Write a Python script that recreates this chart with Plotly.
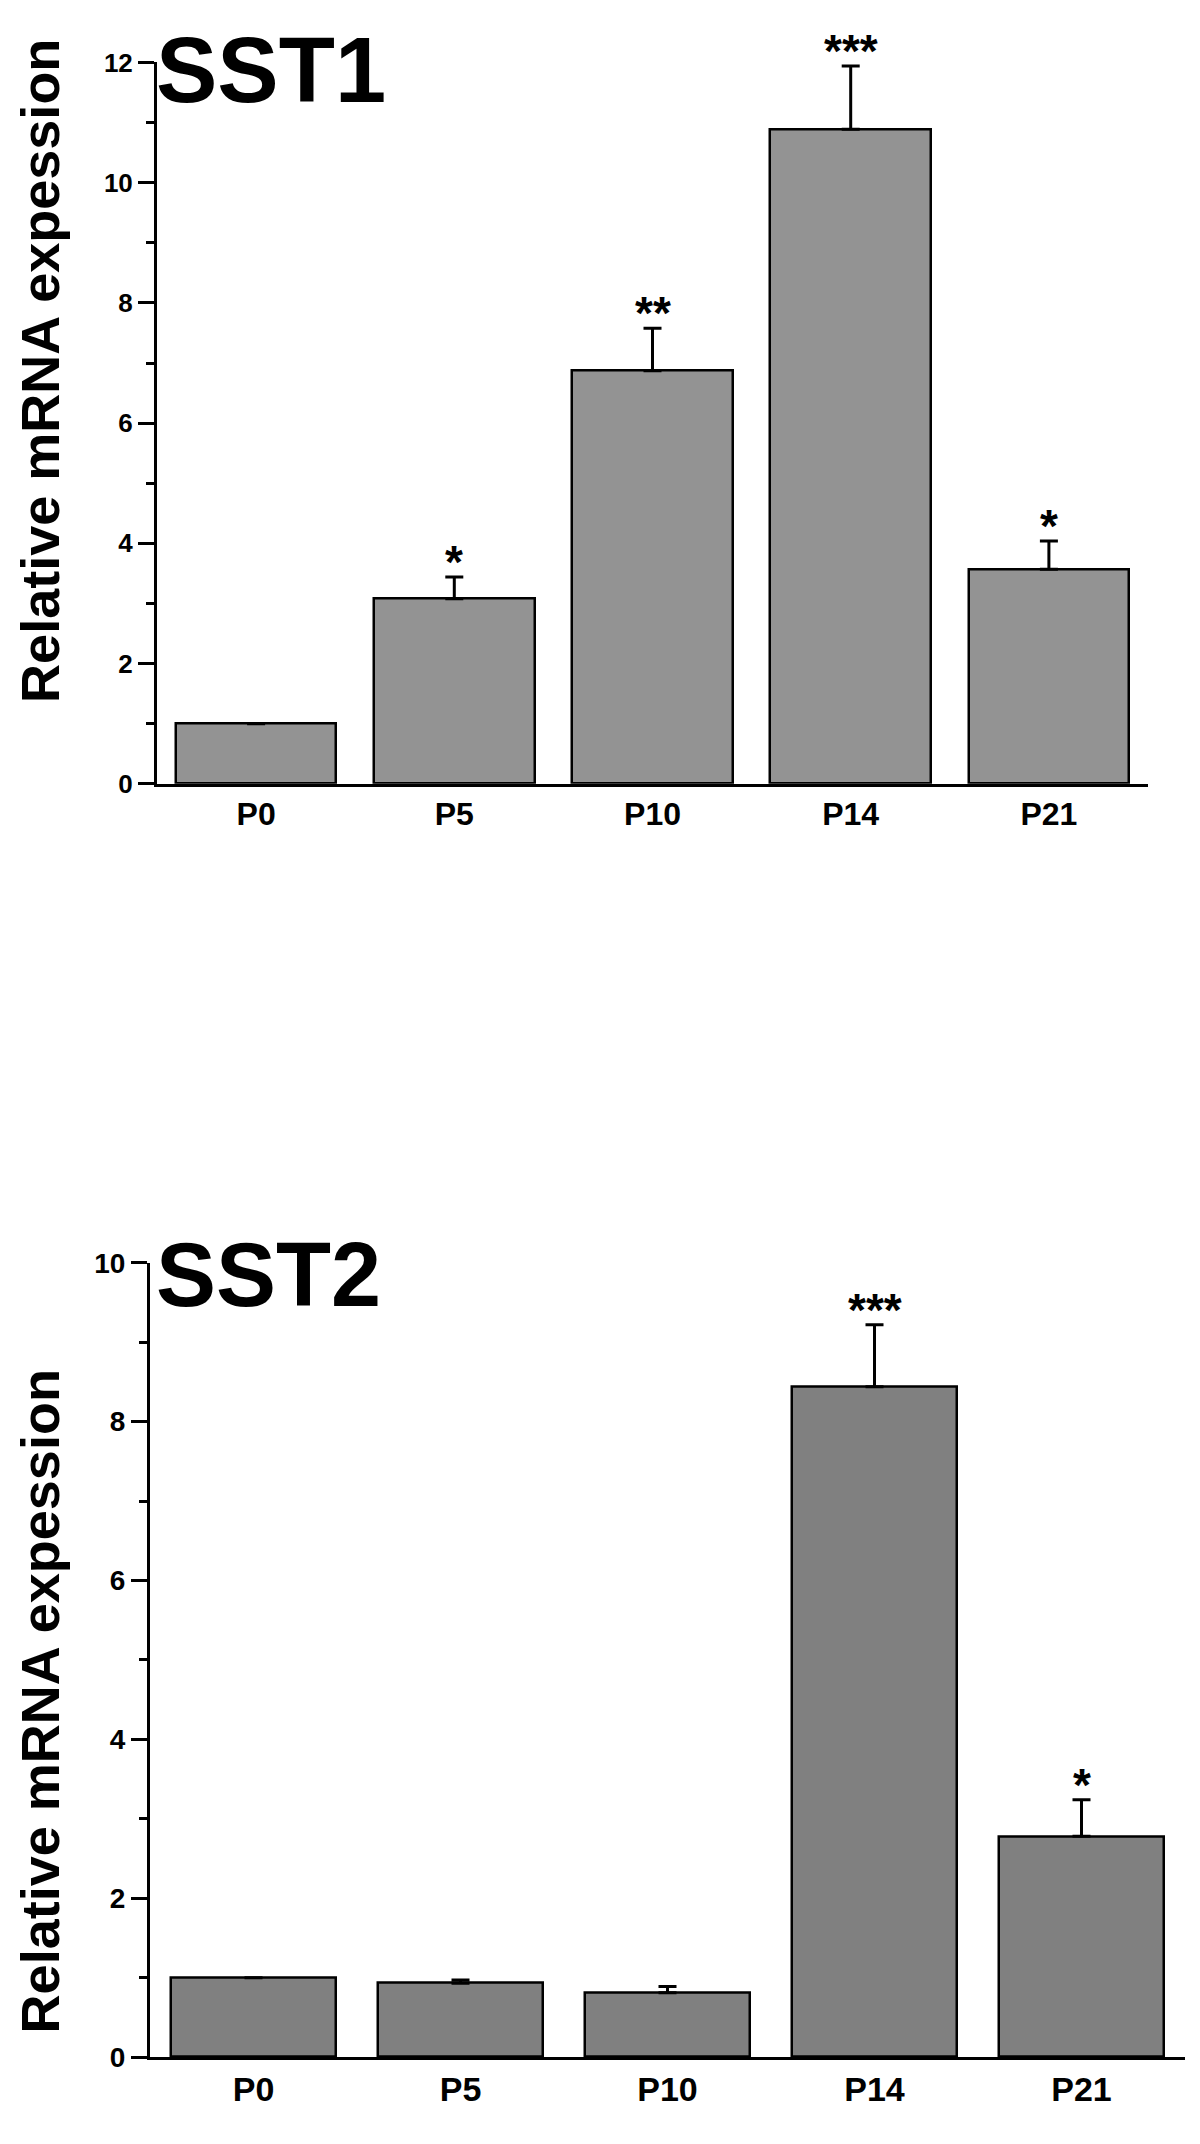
import plotly.graph_objects as go

# data
stages = ["P0", "P5", "P10", "P14", "P21"]
sst1_mean = [1.0, 3.08, 6.87, 10.89, 3.57]
sst1_err = [0, 0.36, 0.71, 1.05, 0.47]
sst1_stars = ["", "*", "**", "***", "*"]
sst2_mean = [1.0, 0.93, 0.81, 8.44, 2.78]
sst2_err = [0, 0.04, 0.08, 0.78, 0.46]
sst2_stars = ["", "", "", "***", "*"]

W, H = 1200, 2144
FONT = "Liberation Sans, Arial, sans-serif"


def px_x(p):
    return p / W


def px_y(p):
    return 1 - p / H


fig = go.Figure()

fig.add_trace(go.Bar(x=stages, y=sst1_mean, width=0.81, xaxis="x", yaxis="y",
                     marker=dict(color="#939393", line=dict(color="black", width=2.5)),
                     error_y=dict(type="data", array=sst1_err, arrayminus=[0] * 5, symmetric=False,
                                  color="black", thickness=3, width=9),
                     showlegend=False))
fig.add_trace(go.Bar(x=stages, y=sst2_mean, width=0.80, xaxis="x2", yaxis="y2",
                     marker=dict(color="#808080", line=dict(color="black", width=2.5)),
                     error_y=dict(type="data", array=sst2_err, arrayminus=[0] * 5, symmetric=False,
                                  color="black", thickness=3, width=9),
                     showlegend=False))

annotations = []
for xa, ya, means, errs, stars in [("x", "y", sst1_mean, sst1_err, sst1_stars),
                                   ("x2", "y2", sst2_mean, sst2_err, sst2_stars)]:
    for s, m, e, t in zip(stages, means, errs, stars):
        if t:
            annotations.append(dict(x=s, y=m + e, xref=xa, yref=ya, text=t, showarrow=False,
                                    yanchor="bottom", yshift=-13,
                                    font=dict(family=FONT, size=46, color="black", weight="bold")))

# panel labels
annotations.append(dict(x=px_x(146), y=px_y(48), xref="paper", yref="paper", text="SST1",
                        showarrow=False, xanchor="left", yanchor="middle",
                        font=dict(family=FONT, size=92, color="black", weight="bold")))
annotations.append(dict(x=px_x(146), y=px_y(1270), xref="paper", yref="paper", text="SST2",
                        showarrow=False, xanchor="left", yanchor="middle",
                        font=dict(family=FONT, size=90, color="black", weight="bold")))

# y axis titles
annotations.append(dict(x=px_x(32), y=px_y(353), xref="paper", yref="paper",
                        text="Relative mRNA expession", textangle=-90, showarrow=False,
                        xanchor="center", yanchor="middle",
                        font=dict(family=FONT, size=54, color="black", weight="bold")))
annotations.append(dict(x=px_x(32), y=px_y(1703), xref="paper", yref="paper",
                        text="Relative mRNA expession", textangle=-90, showarrow=False,
                        xanchor="center", yanchor="middle",
                        font=dict(family=FONT, size=54, color="black", weight="bold")))

xcommon = dict(showline=True, linecolor="black", linewidth=3, ticks="", showgrid=False,
               zeroline=False, range=[-0.5, 4.5], fixedrange=True)
ycommon = dict(showline=True, linecolor="black", linewidth=3, ticks="outside", ticklen=16,
               tickwidth=3, tickcolor="black", dtick=2, showgrid=False, zeroline=False,
               minor=dict(ticks="outside", ticklen=8, tickwidth=3, tickcolor="black", dtick=1))

fig.update_layout(
    width=W, height=H,
    margin=dict(l=0, r=0, t=0, b=0),
    paper_bgcolor="white", plot_bgcolor="white",
    bargap=0,
    xaxis=dict(xcommon, domain=[px_x(149), px_x(1140)], anchor="y",
               tickfont=dict(family=FONT, size=32, color="black", weight="bold")),
    yaxis=dict(ycommon, domain=[px_y(772), px_y(40)], anchor="x", range=[0, 12], tick0=0,
               tickfont=dict(family=FONT, size=26, color="black", weight="bold")),
    xaxis2=dict(xcommon, domain=[px_x(142), px_x(1177)], anchor="y2",
                tickfont=dict(family=FONT, size=34, color="black", weight="bold")),
    yaxis2=dict(ycommon, domain=[px_y(2064), px_y(1258)], anchor="x2", range=[0, 10], tick0=0,
                tickfont=dict(family=FONT, size=28, color="black", weight="bold")),
    annotations=annotations,
)

fig.write_html("out.html")
